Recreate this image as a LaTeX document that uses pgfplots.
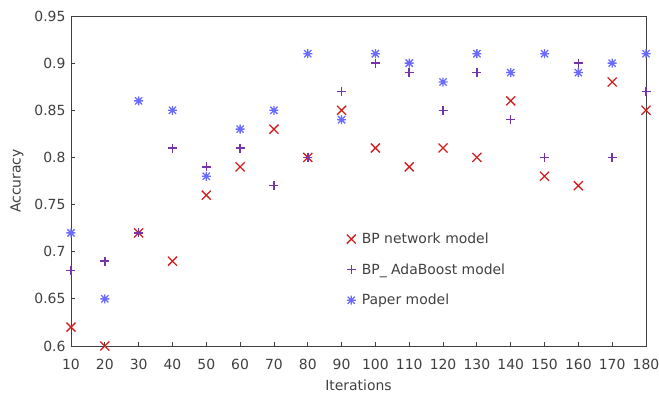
\documentclass[border=0pt]{standalone}
\usepackage{pgfplots}
\pgfplotsset{compat=1.18}
\usepackage{fontspec}
\setmainfont{DejaVu Sans}
\definecolor{cred}{HTML}{D02020}
\definecolor{cpur}{HTML}{7535A8}
\definecolor{cblu}{HTML}{6A6AFF}
\definecolor{ctxt}{HTML}{404040}
\pgfdeclareplotmark{xplus}{%
  \pgfpathmoveto{\pgfqpoint{-\pgfplotmarksize}{0pt}}%
  \pgfpathlineto{\pgfqpoint{\pgfplotmarksize}{0pt}}%
  \pgfpathmoveto{\pgfqpoint{0pt}{-\pgfplotmarksize}}%
  \pgfpathlineto{\pgfqpoint{0pt}{\pgfplotmarksize}}%
  \pgfpathmoveto{\pgfqpoint{-.8\pgfplotmarksize}{-.8\pgfplotmarksize}}%
  \pgfpathlineto{\pgfqpoint{.8\pgfplotmarksize}{.8\pgfplotmarksize}}%
  \pgfpathmoveto{\pgfqpoint{-.8\pgfplotmarksize}{.8\pgfplotmarksize}}%
  \pgfpathlineto{\pgfqpoint{.8\pgfplotmarksize}{-.8\pgfplotmarksize}}%
  \pgfusepathqstroke}
\begin{document}
\begin{tikzpicture}
\path[use as bounding box] (-71bp,-47bp) rectangle (588bp,346bp);
\begin{axis}[
  scale only axis, width=575bp, height=330bp,
  xmin=10, xmax=180, ymin=0.6, ymax=0.95,
  xtick={10,20,...,180},
  ytick={0.6,0.65,0.7,0.75,0.8,0.85,0.9,0.95},
  yticklabels={0.6,0.65,0.7,0.75,0.8,0.85,0.9,0.95},
  tick align=inside, xtick pos=left, ytick pos=left,
  major tick length=4bp,
  axis line style={draw=black!75, line width=0.9pt},
  tick style={draw=black!75, line width=0.8pt},
  /pgf/number format/assume math mode=true,
  ticklabel style={font=\fontsize{14}{16}\selectfont, text=ctxt},
  xticklabel style={yshift=-10bp},
  yticklabel style={xshift=-2bp},
  label style={font=\fontsize{14}{16}\selectfont, text=ctxt},
  xlabel={Iterations}, ylabel={Accuracy},
  xlabel style={yshift=-3bp},
  ylabel style={yshift=4bp},
  clip=false,
  legend style={draw=none, fill=none, at={(rel axis cs:0.474,0.355)}, anchor=north west,
    font=\fontsize{14}{16}\selectfont, text=ctxt, row sep=14.5bp,
    /tikz/every odd column/.append style={column sep=4bp}},
  legend cell align=left,
]
\addplot[only marks, mark=x, mark size=6.4bp, color=cred, mark options={line width=1.3pt}] coordinates {
(10,0.62) (20,0.60) (30,0.72) (40,0.69) (50,0.76) (60,0.79) (70,0.83) (80,0.80) (90,0.85)
(100,0.81) (110,0.79) (120,0.81) (130,0.80) (140,0.86) (150,0.78) (160,0.77) (170,0.88) (180,0.85)};
\addlegendentry{BP network model}
\addplot[only marks, mark=+, mark size=4.5bp, color=cpur, mark options={line width=1.5pt}] coordinates {
(10,0.68) (20,0.69) (30,0.72) (40,0.81) (50,0.79) (60,0.81) (70,0.77) (80,0.80) (90,0.87)
(100,0.90) (110,0.89) (120,0.85) (130,0.89) (140,0.84) (150,0.80) (160,0.90) (170,0.80) (180,0.87)};
\addlegendentry{BP\_ AdaBoost model}
\addplot[only marks, mark=xplus, mark size=4.5bp, color=cblu, mark options={line width=1.3pt}] coordinates {
(10,0.72) (20,0.65) (30,0.86) (40,0.85) (50,0.78) (60,0.83) (70,0.85) (80,0.91) (90,0.84)
(100,0.91) (110,0.90) (120,0.88) (130,0.91) (140,0.89) (150,0.91) (160,0.89) (170,0.90) (180,0.91)};
\addlegendentry{Paper model}
\end{axis}
\end{tikzpicture}
\end{document}
